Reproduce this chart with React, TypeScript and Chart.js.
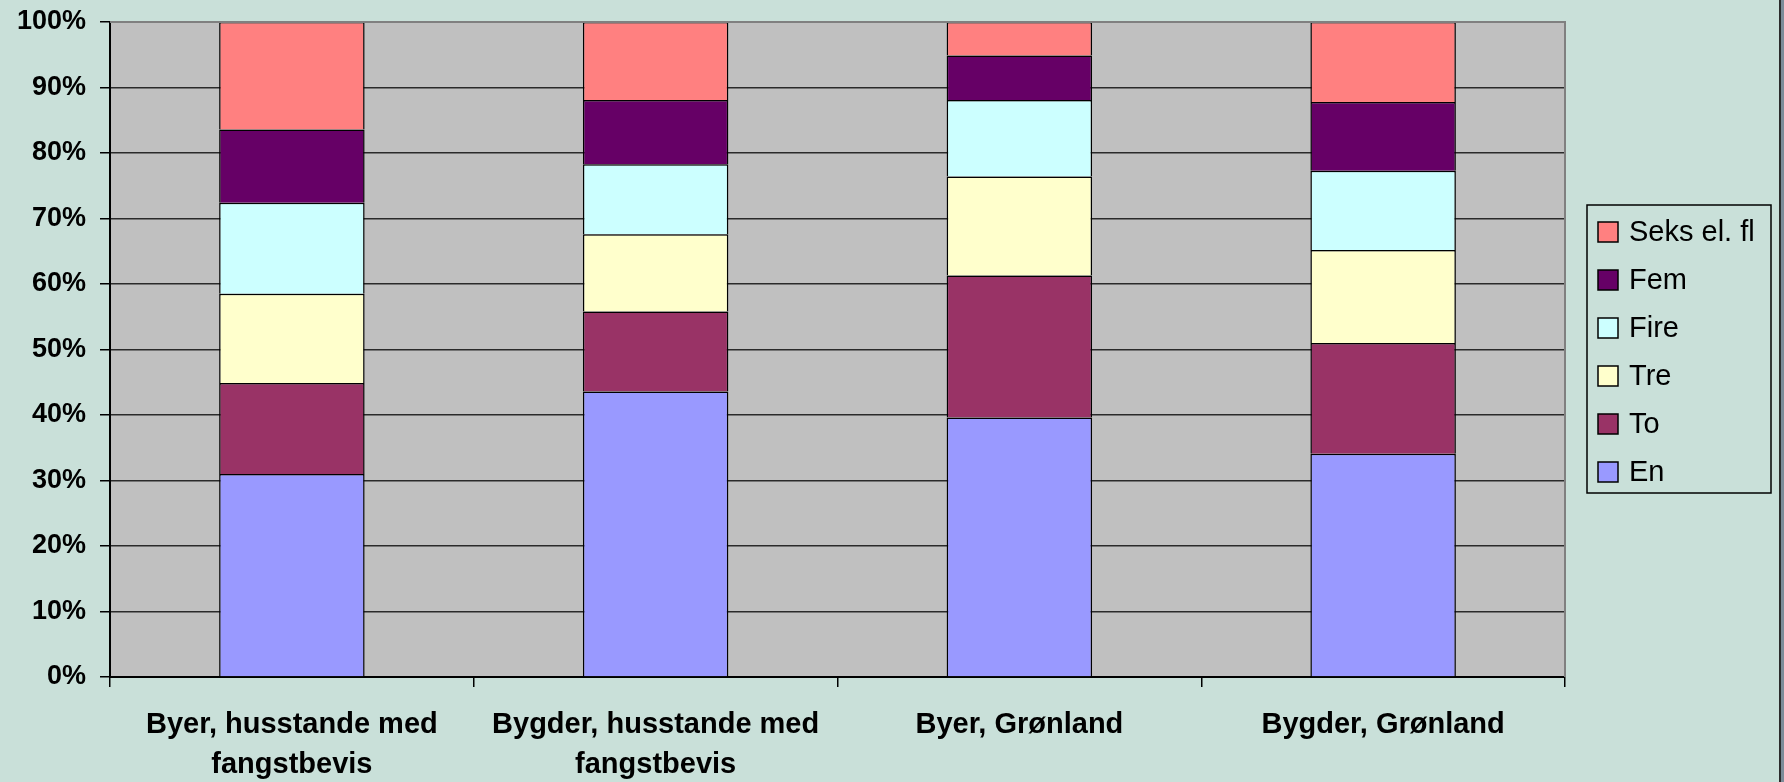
import React, { useEffect, useRef } from "react";
import { Chart, registerables } from "chart.js";

Chart.register(...registerables);

const categories: (string | string[])[] = [
  ["Byer, husstande med", "fangstbevis"],
  ["Bygder, husstande med", "fangstbevis"],
  "Byer, Grønland",
  "Bygder, Grønland",
];

const seriesNames = ["En", "To", "Tre", "Fire", "Fem", "Seks el. fl"];
const seriesColors = ["#9999FF", "#993366", "#FFFFCC", "#CCFFFF", "#660066", "#FF8080"];

const enValues = [31.0, 43.6, 39.6, 34.1];
const toValues = [13.9, 12.2, 21.7, 16.9];
const treValues = [13.6, 11.8, 15.1, 14.2];
const fireValues = [13.9, 10.7, 11.7, 12.1];
const femValues = [11.2, 9.8, 6.8, 10.5];
const seksValues = [16.4, 11.9, 5.1, 12.2];

const yTicks = [0, 10, 20, 30, 40, 50, 60, 70, 80, 90, 100];

const BG = "#C9E0D9";
const PLOT_BG = "#C0C0C0";

export default function App() {
  const ref = useRef<HTMLCanvasElement | null>(null);

  useEffect(() => {
    document.body.style.margin = "0";
    document.body.style.overflow = "hidden";
    const canvas = ref.current;
    if (!canvas) return;
    const values = [enValues, toValues, treValues, fireValues, femValues, seksValues];

    const bgPlugin = {
      id: "bgPlugin",
      beforeDraw(chart: any) {
        const { ctx, chartArea } = chart;
        ctx.save();
        ctx.fillStyle = BG;
        ctx.fillRect(0, 0, chart.width, chart.height);
        ctx.fillStyle = PLOT_BG;
        ctx.fillRect(chartArea.left, chartArea.top, chartArea.right - chartArea.left, chartArea.bottom - chartArea.top);
        ctx.fillStyle = "#7d8c99";
        ctx.fillRect(chart.width - 4, 0, 4, chart.height);
        ctx.fillStyle = "#2c2c2c";
        ctx.fillRect(chart.width - 5, 0, 2, chart.height);
        ctx.restore();
      },
      afterDraw(chart: any) {
        const { ctx, chartArea } = chart;
        ctx.save();
        ctx.strokeStyle = "#808080";
        ctx.lineWidth = 2;
        ctx.beginPath();
        ctx.moveTo(chartArea.left, chartArea.top);
        ctx.lineTo(chartArea.right, chartArea.top);
        ctx.lineTo(chartArea.right, chartArea.bottom);
        ctx.stroke();
        const lx = 1587, ly = 205, lw = 184, lh = 288;
        ctx.strokeStyle = "#000";
        ctx.lineWidth = 1.5;
        ctx.strokeRect(lx, ly, lw, lh);
        ctx.font = "29px 'Liberation Sans', Arial, sans-serif";
        ctx.textBaseline = "middle";
        ctx.textAlign = "left";
        const ds = chart.data.datasets;
        for (let i = 0; i < ds.length; i++) {
          const d = ds[ds.length - 1 - i];
          const cy = ly + 27 + i * 48;
          ctx.fillStyle = d.backgroundColor;
          ctx.fillRect(1598, cy - 10, 20, 20);
          ctx.strokeStyle = "#000";
          ctx.lineWidth = 1.5;
          ctx.strokeRect(1598, cy - 10, 20, 20);
          ctx.fillStyle = "#000";
          ctx.fillText(d.label, 1629, cy + 1);
        }
        ctx.restore();
      },
    };

    const chart = new Chart(canvas, {
      type: "bar",
      data: {
        labels: categories,
        datasets: seriesNames.map((name, i) => ({
          label: name,
          data: values[i],
          backgroundColor: seriesColors[i],
          borderColor: "#000",
          borderWidth: 1.5,
          barPercentage: 0.4,
          categoryPercentage: 1.0,
        })),
      },
      options: {
        responsive: false,
        animation: false,
        layout: { padding: { top: 22, right: 219, left: 0, bottom: 0 } },
        plugins: {
          legend: { display: false },
          tooltip: { enabled: false },
        },
        scales: {
          x: {
            stacked: true,
            afterFit(scale: any) {
              scale.height = 105;
              scale.paddingLeft = 0;
              scale.paddingRight = 0;
            },
            grid: {
              offset: true,
              drawOnChartArea: false,
              drawTicks: true,
              tickLength: 10,
              color: "#000",
              tickColor: "#000",
              lineWidth: 1.5,
            },
            border: { color: "#000", width: 2 },
            ticks: {
              color: "#000",
              padding: 18,
              maxRotation: 0,
              autoSkip: false,
              font: { family: "'Liberation Sans', Arial, sans-serif", size: 29, weight: "bold", lineHeight: 1.38 },
            },
          },
          y: {
            stacked: true,
            min: 0,
            max: 100,
            afterFit(scale: any) {
              scale.width = 110;
              scale.paddingTop = 0;
              scale.paddingBottom = 0;
            },
            afterBuildTicks(scale: any) {
              scale.ticks = yTicks.map((v) => ({ value: v }));
            },
            grid: {
              color: (ctx: any) => (ctx.tick && ctx.tick.value === 100 ? "#808080" : "#2a2a2a"),
              lineWidth: 1.5,
              tickLength: 10,
              tickColor: "#000",
            },
            border: { color: "#000", width: 2 },
            ticks: {
              color: "#000",
              padding: 14,
              stepSize: 10,
              callback: (v: any) => v + "%",
              font: { family: "'Liberation Sans', Arial, sans-serif", size: 27, weight: "bold" },
            },
          },
        },
      },
      plugins: [bgPlugin],
    });
    return () => chart.destroy();
  }, []);

  return (
    <div style={{ width: 1784, height: 782, background: BG }}>
      <canvas ref={ref} width={1784} height={782} style={{ display: "block" }} />
    </div>
  );
}
